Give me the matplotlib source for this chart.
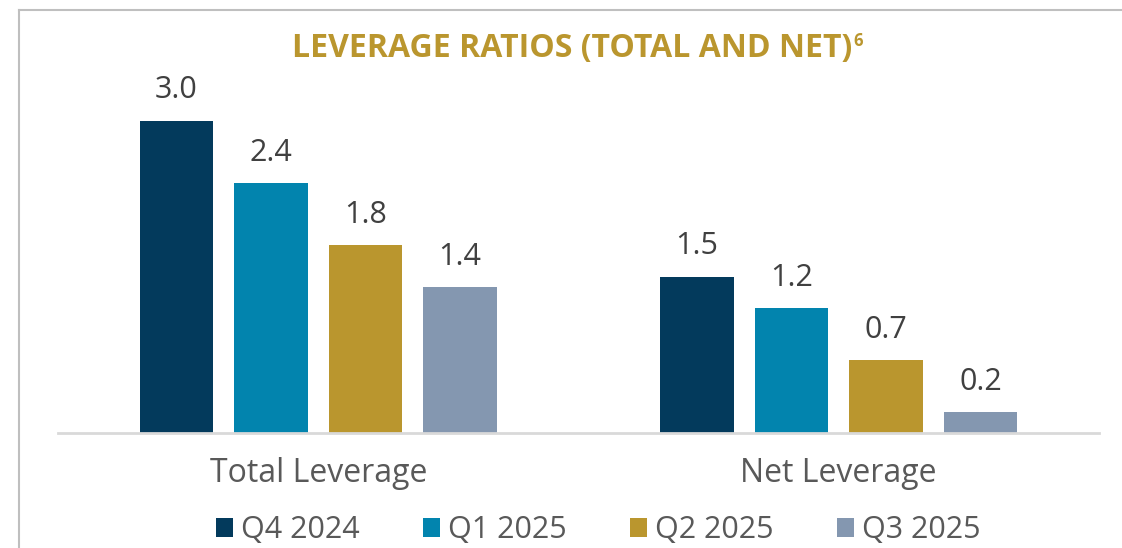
import matplotlib
matplotlib.use("Agg")
import matplotlib.pyplot as plt
import numpy as np

categories = ["Total Leverage", "Net Leverage"]
series_names = ["Q4 2024", "Q1 2025", "Q2 2025", "Q3 2025"]
q4_2024 = [3.0, 1.5]
q1_2025 = [2.4, 1.2]
q2_2025 = [1.8, 0.7]
q3_2025 = [1.4, 0.2]
series_values = [q4_2024, q1_2025, q2_2025, q3_2025]
colors = ["#033A5C", "#0284AE", "#BA962E", "#8497B0"]
title_text = "LEVERAGE RATIOS (TOTAL AND NET)"
title_sup = "6"

FONT = "Open Sans"
plt.rcParams["font.family"] = [FONT, "DejaVu Sans"]

W, H = 1122, 548
fig = plt.figure(figsize=(W / 100, H / 100), dpi=100)

# axes placement in pixels
x0, x1 = 58, 1099
ybase = 432.5
ymax = 3.5
ppu = 104.0
ytop = ybase - ymax * ppu
ax = fig.add_axes([x0 / W, (H - ybase) / H, (x1 - x0) / W, (ybase - ytop) / H])
ax.set_xlim(-0.5, 1.5)
ax.set_ylim(0, ymax)

x = np.arange(len(categories))
step = 0.1816
width = 0.142
for i, (name, vals, c) in enumerate(zip(series_names, series_values, colors)):
    pos = x + (i - 1.5) * step
    bars = ax.bar(pos, vals, width=width, color=c, label=name, zorder=2)
    for b, v in zip(bars, vals):
        ax.annotate(f"{v:.1f}", (b.get_x() + b.get_width() / 2, v),
                    xytext=(0, 21.6), textcoords="offset points",
                    ha="center", va="center", fontsize=22, color="#404040")

for s in ["top", "right", "left"]:
    ax.spines[s].set_visible(False)
ax.spines["bottom"].set_color("#D9D9D9")
ax.spines["bottom"].set_linewidth(2)
ax.set_yticks([])
ax.set_xticks(x)
ax.set_xticklabels(categories, fontsize=23, color="#595959")
ax.tick_params(axis="x", length=0, pad=18)

# legend
handles, labels = ax.get_legend_handles_labels()
leg = fig.legend(handles, labels, loc="center", bbox_to_anchor=(0.533, (H - 530) / H),
                 ncol=4, frameon=False, fontsize=22, labelcolor="#595959",
                 handlelength=0.56, handleheight=0.56, handletextpad=0.25,
                 columnspacing=2.08, borderpad=0, borderaxespad=0)

# border lines
fig.add_artist(plt.Line2D([19 / W, 1.0], [(H - 10) / H, (H - 10) / H],
                          transform=fig.transFigure, color="#BFBFBF", lw=1.5))
fig.add_artist(plt.Line2D([19 / W, 19 / W], [0, (H - 10) / H],
                          transform=fig.transFigure, color="#BFBFBF", lw=1.5))

# title
t = fig.text(572 / W, (H - 48) / H, title_text, ha="center", va="center",
             fontsize=23, fontweight="bold", color="#BA962E")
fig.canvas.draw()
bb = t.get_window_extent()
fig.text((bb.x1 + 1) / W, (H - 41) / H, title_sup, ha="left", va="center",
         fontsize=12, fontweight="bold", color="#BA962E")

fig.savefig("out.png", dpi=100)
